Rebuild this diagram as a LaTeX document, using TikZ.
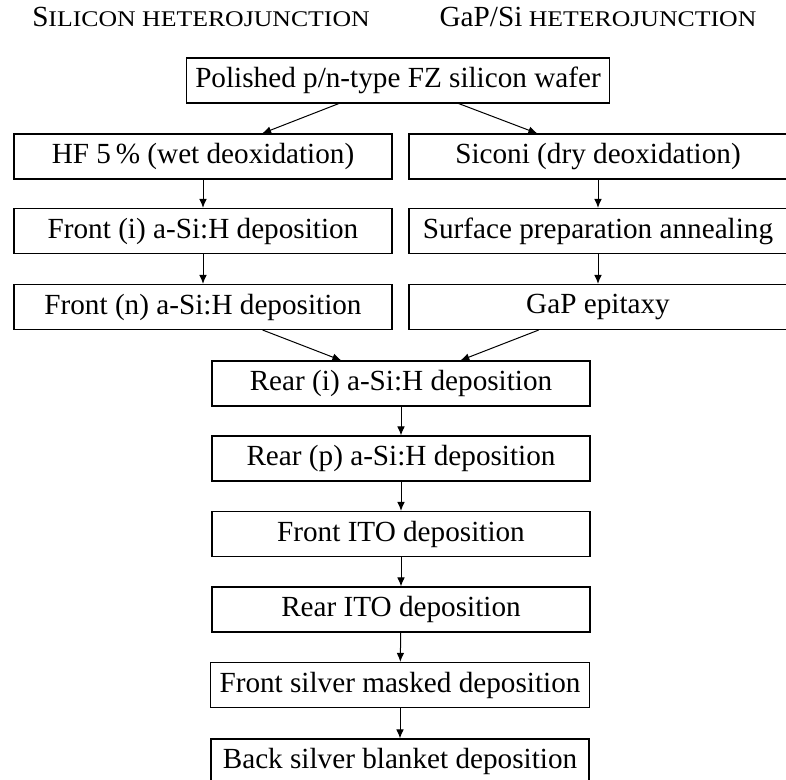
\documentclass[tikz,border=0pt]{standalone}
\usepackage{fontspec}
\usepackage{graphicx}
\setmainfont{Liberation Serif}
\usetikzlibrary{arrows.meta}

% small capitals built from scaled capitals
\newcommand{\smallcapsrun}[1]{{\fontsize{11.2}{13}\selectfont\scalebox{1.15}[1]{#1}}}

\tikzset{
  procbox/.style={draw, line width=0.55pt, minimum width=189pt, minimum height=22.5pt,
    inner xsep=4.5pt, inner ysep=0pt, font=\fontsize{14.6}{17}\selectfont},
  heading/.style={anchor=base, inner sep=0pt, font=\fontsize{14.6}{17}\selectfont},
  flow/.style={line width=0.5pt, -{Latex[length=4.5pt,width=3.8pt]}}
}

\begin{document}
\begin{tikzpicture}[x=0.5pt, y=-0.5pt]
\useasboundingbox (0,0) rectangle (786,780);
\clip (0,0) rectangle (786,780);

% column headings
\node[heading] (hsi)  at (201,27) {S\smallcapsrun{ILICON HETEROJUNCTION}};
\node[heading] (hgap) at (598,27) {GaP/Si\smallcapsrun{ HETEROJUNCTION}};

% common starting wafer
\node[procbox] (wafer) at (398,80.5) {Polished p/n-type FZ silicon wafer};

% silicon heterojunction branch
\node[procbox] (hf)     at (203,156.5) {HF 5\,\% (wet deoxidation)};
\node[procbox] (fi)     at (203,231)   {Front (i) a-Si:H deposition};
\node[procbox] (fn)     at (203,307)   {Front (n) a-Si:H deposition};

% GaP/Si branch
\node[procbox] (siconi) at (598,156.5) {Siconi (dry deoxidation)};
\node[procbox] (anneal) at (598,231)   {Surface preparation annealing};
\node[procbox] (gap)    at (598,307)   {GaP epitaxy};

% common rear side and metallisation steps
\node[procbox] (ri)     at (401,383.5) {Rear (i) a-Si:H deposition};
\node[procbox] (rp)     at (401,458.5) {Rear (p) a-Si:H deposition};
\node[procbox] (fito)   at (401,534)   {Front ITO deposition};
\node[procbox] (rito)   at (401,609.5) {Rear ITO deposition};
\node[procbox] (fag)    at (400,685)   {Front silver masked deposition};
\node[procbox] (bag)    at (400,761.5) {Back silver blanket deposition};

% process flow
\draw[flow] (wafer) -- (hf);
\draw[flow] (wafer) -- (siconi);
\draw[flow] (hf) -- (fi);
\draw[flow] (fi) -- (fn);
\draw[flow] (siconi) -- (anneal);
\draw[flow] (anneal) -- (gap);
\draw[flow] (fn) -- (ri);
\draw[flow] (gap) -- (ri);
\draw[flow] (ri) -- (rp);
\draw[flow] (rp) -- (fito);
\draw[flow] (fito) -- (rito);
\draw[flow] (rito) -- (fag);
\draw[flow] (fag) -- (bag);
\end{tikzpicture}
\end{document}
